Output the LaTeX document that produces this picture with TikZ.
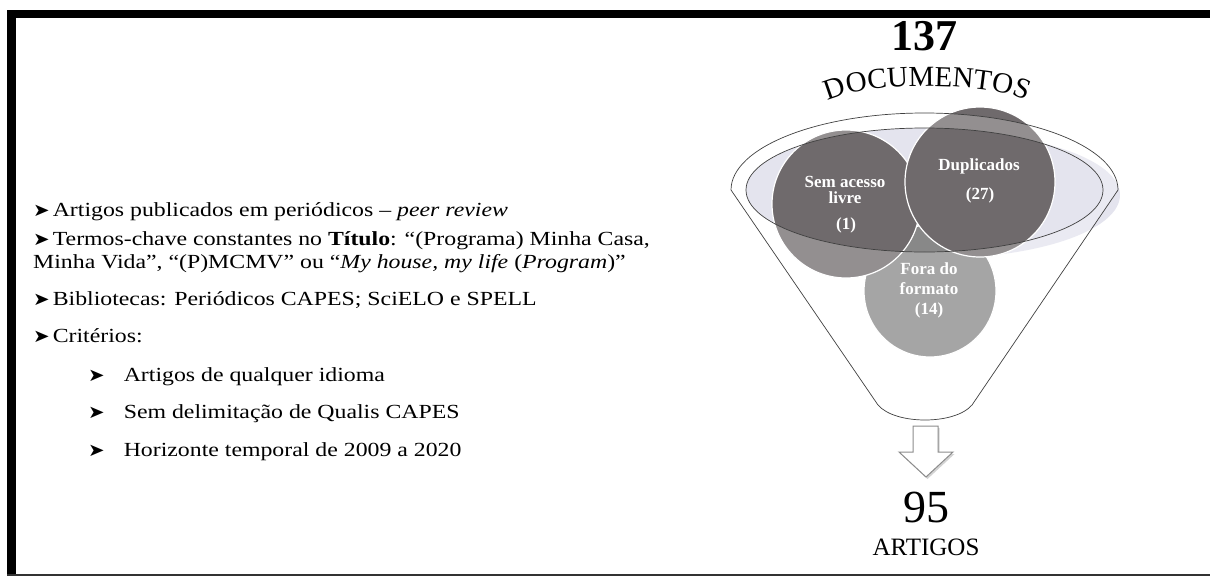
\documentclass[tikz,border=0pt]{standalone}
\usepackage{fontspec}
\setmainfont{Liberation Serif}
\newfontfamily\listfont[FakeStretch=1.19]{Liberation Serif}
\newfontfamily\symfont[FakeStretch=1.1]{DejaVu Sans}
\usetikzlibrary{positioning,shadows,decorations.text}
\definecolor{lavender}{HTML}{E4E4EE}
\definecolor{circdark}{HTML}{6F6A6C}
\definecolor{circlight}{HTML}{888888}
\newcommand\mainbul{{\symfont\fontsize{18}{18}\selectfont ➤}\hspace{3pt}}
\newcommand\subbul{{\symfont\fontsize{18}{18}\selectfont ➤}\hspace{19pt}}

\begin{document}
\begin{tikzpicture}[x=1pt,y=-1pt,
    item/.style={anchor=base west,inner sep=0pt,font=\listfont\fontsize{20}{24}\selectfont},
    circtext/.style={text=white,align=center,inner sep=0pt,font=\bfseries\fontsize{17}{18}\selectfont},
    venn/.style={draw=white,line width=1.2pt},
    funnel/.style={draw=black!75,line width=.7pt},
    arrowblk/.style={draw=black!45,line width=1pt,fill=white,drop shadow={opacity=.35,shadow xshift=1.5pt,shadow yshift=-2pt}}]
\useasboundingbox (0,0) rectangle (1210,576);
\fill (7,10) rectangle (1210,18);
\fill (7,10) rectangle (16,576);
\draw[black!80,line width=1.5pt] (7,575.2) -- (1210,575.2);

\node[item] (peer) at (33,216) {\mainbul Artigos publicados em periódicos – \textit{peer review}};
\node[item] (termos) at (33,245) {\mainbul Termos-chave constantes no \textbf{Título}: “(Programa) Minha Casa,};
\node[item] (termosb) at (33,268) {Minha Vida”, “(P)MCMV” ou “\textit{My house, my life} (\textit{Program})”};
\node[item] (bib) at (33,305) {\mainbul Bibliotecas: Periódicos CAPES; SciELO e SPELL};
\node[item] (crit) at (33,342) {\mainbul Critérios:};
\node[item] (idioma) at (88,381) {\subbul Artigos de qualquer idioma};
\node[item] (qualis) at (88,418) {\subbul Sem delimitação de Qualis CAPES};
\node[item] (horiz) at (88,456) {\subbul Horizonte temporal de 2009 a 2020};

\node[font=\bfseries\fontsize{44}{44}\selectfont] (total) at (924,36) {137};
\path[decorate,decoration={text along path,text align=center,
    text={|\fontsize{29}{29}\selectfont|DOCUMENTOS}}]
  (832,99) .. controls (870,82) and (985,82) .. (1022,99);

\fill[lavender] (940,195) ellipse[x radius=180,y radius=63];
\fill[lavender] (924.5,190) ellipse[x radius=178.5,y radius=62];
\fill[venn,fill=circlight] (930,291) circle[radius=66];
\filldraw[venn,fill=circdark] (846,204) circle[radius=74];
\filldraw[venn,fill=circdark] (980,182) circle[radius=75];
\fill[white,opacity=.25,even odd rule] (731,190)
    arc[start angle=180,end angle=360,x radius=193.5,y radius=77]
    -- (972,405) .. controls (955,425) and (895,425) .. (878,405) -- cycle
  (924.5,190) ellipse[x radius=178.5,y radius=62];
\draw[funnel] (731,190) arc[start angle=180,end angle=360,x radius=193.5,y radius=77]
    -- (972,405) .. controls (955,425) and (895,425) .. (878,405) -- cycle;
\draw[funnel] (924.5,190) ellipse[x radius=178.5,y radius=62];

\node[circtext] (semtxt) at (845,190) {Sem acesso\\[-2pt]livre};
\node[circtext] (semnum) at (846,225) {(1)};
\node[circtext] (duptxt) at (979,166) {Duplicados};
\node[circtext] (dupnum) at (980,195) {(27)};
\node[circtext,font=\bfseries\fontsize{17}{20}\selectfont] (foratxt) at (929,290) {Fora do\\formato\\(14)};

\draw[arrowblk] (913,426) -- (938,426) -- (938,452) -- (953,452) -- (926,477) -- (899,452) -- (913,452) -- cycle;
\node[font=\fontsize{46}{46}\selectfont] (kept) at (926,507) {95};
\node[font=\fontsize{25}{25}\selectfont,below=9pt of kept] (artigos) {ARTIGOS};
\end{tikzpicture}
\end{document}
